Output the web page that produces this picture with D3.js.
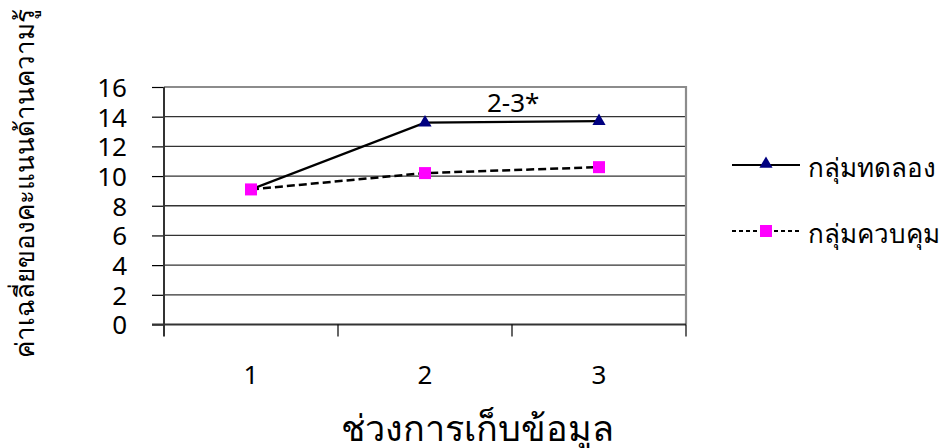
<!DOCTYPE html>
<html>
<head>
<meta charset="utf-8">
<script src="https://cdn.jsdelivr.net/npm/d3@7"></script>
<style>
  html, body { margin: 0; padding: 0; background: #fff; }
  svg text { font-family: "Noto Sans", "Open Sans", sans-serif; fill: #000; }
</style>
</head>
<body>
<svg id="chart" width="943" height="448"></svg>
<script>
// Data collection periods and mean knowledge scores per group
const periods = ["1", "2", "3"];
const experimentalScores = [9.1, 13.6, 13.7];
const controlScores = [9.1, 10.2, 10.6];
const yTicks = [0, 2, 4, 6, 8, 10, 12, 14, 16];
const seriesNames = ["กลุ่มทดลอง", "กลุ่มควบคุม"];
const yTitle = "ค่าเฉลี่ยของคะแนนด้านความรู้";
const xTitle = "ช่วงการเก็บข้อมูล";
const noteText = "2-3*";

const svg = d3.select("#chart");
const plot = { left: 164, right: 686, top: 87, bottom: 324.5 };

const x = d3.scaleBand().domain(periods).range([plot.left, plot.right]);
const y = d3.scaleLinear().domain([0, 16]).range([plot.bottom, plot.top]);

// Horizontal gridlines
svg.append("g").selectAll("line").data(yTicks.filter(d => d > 0 && d < 16)).join("line")
  .attr("x1", plot.left).attr("x2", plot.right)
  .attr("y1", d => y(d)).attr("y2", d => y(d))
  .attr("stroke", "#333").attr("stroke-width", 1.3);

// Plot frame: top and right edges in grey
svg.append("path")
  .attr("d", `M${plot.left},${y(16)}H${plot.right}V${plot.bottom}`)
  .attr("fill", "none").attr("stroke", "#8c8c8c").attr("stroke-width", 2.2);

// Y axis
const yAxis = svg.append("g")
  .attr("transform", `translate(${plot.left},0)`)
  .call(d3.axisLeft(y).tickValues(yTicks).tickSize(12).tickPadding(25));
yAxis.select(".domain").remove();
yAxis.selectAll(".tick line").attr("stroke", "#000").attr("stroke-width", 1.2);
yAxis.selectAll(".tick text")
  .style("font-size", "26px").style("font-family", "'Noto Sans', sans-serif")
  .attr("dy", "0.36em");
svg.append("line")
  .attr("x1", plot.left).attr("x2", plot.left)
  .attr("y1", plot.top).attr("y2", plot.bottom + 12)
  .attr("stroke", "#333").attr("stroke-width", 2);

// X axis: baseline, boundary ticks, centred category labels
svg.append("line")
  .attr("x1", plot.left - 12).attr("x2", plot.right)
  .attr("y1", plot.bottom).attr("y2", plot.bottom)
  .attr("stroke", "#333").attr("stroke-width", 2);
const bounds = periods.map(p => x(p) + x.bandwidth());
svg.append("g").selectAll("line").data(bounds).join("line")
  .attr("x1", d => d).attr("x2", d => d)
  .attr("y1", plot.bottom).attr("y2", plot.bottom + 12)
  .attr("stroke", "#000").attr("stroke-width", 1.2);
svg.append("g").selectAll("text").data(periods).join("text")
  .attr("x", d => x(d) + x.bandwidth() / 2)
  .attr("y", 384)
  .attr("text-anchor", "middle")
  .style("font-size", "26px")
  .text(d => d);

// Axis titles
svg.append("text")
  .attr("x", 477).attr("y", 441)
  .attr("text-anchor", "middle")
  .style("font-size", "36px")
  .text(xTitle);
svg.append("text")
  .attr("transform", "translate(34,183) rotate(-90)")
  .attr("text-anchor", "middle")
  .style("font-size", "26px")
  .text(yTitle);

// Series lines
const cx = d => x(d) + x.bandwidth() / 2;
const line = d3.line().x(d => cx(d.p)).y(d => y(d.v));
const expData = periods.map((p, i) => ({ p, v: experimentalScores[i] }));
const ctrlData = periods.map((p, i) => ({ p, v: controlScores[i] }));

svg.append("path").datum(expData)
  .attr("d", line).attr("fill", "none")
  .attr("stroke", "#000").attr("stroke-width", 2.4);
svg.append("path").datum(ctrlData)
  .attr("d", line).attr("fill", "none")
  .attr("stroke", "#000").attr("stroke-width", 2.5)
  .attr("stroke-dasharray", "8,4");

// Markers
const tri = d3.symbol().type(d3.symbolTriangle).size(75);
svg.append("g").selectAll("path").data(expData.slice(1)).join("path")
  .attr("transform", d => `translate(${cx(d.p)},${y(d.v)})`)
  .attr("d", tri).attr("fill", "#000080");
svg.append("g").selectAll("rect").data(ctrlData).join("rect")
  .attr("x", d => cx(d.p) - 6).attr("y", d => y(d.v) - 6)
  .attr("width", 12).attr("height", 12).attr("fill", "#ff00ff");

// Significance note
svg.append("text")
  .attr("x", 487).attr("y", 112)
  .style("font-size", "26px")
  .text(noteText);

// Legend
const legend = svg.append("g");
const rows = [
  { name: seriesNames[0], dash: null, marker: "tri", y: 165 },
  { name: seriesNames[1], dash: "4,3", marker: "sq", y: 231 }
];
rows.forEach(r => {
  legend.append("line")
    .attr("x1", 732).attr("x2", 800).attr("y1", r.y).attr("y2", r.y)
    .attr("stroke", "#000").attr("stroke-width", 2)
    .attr("stroke-dasharray", r.dash);
  if (r.marker === "tri") {
    legend.append("path").attr("transform", `translate(766,${r.y - 1})`)
      .attr("d", tri).attr("fill", "#000080");
  } else {
    legend.append("rect").attr("x", 760).attr("y", r.y - 6)
      .attr("width", 12).attr("height", 12).attr("fill", "#ff00ff");
  }
  legend.append("text")
    .attr("x", 808).attr("y", r.y + 12)
    .style("font-size", "26px")
    .text(r.name);
});
</script>
</body>
</html>
